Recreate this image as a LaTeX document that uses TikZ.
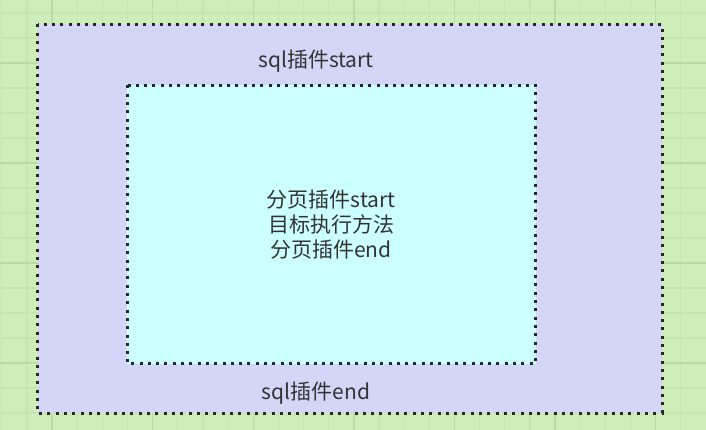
\documentclass[tikz,border=0pt]{standalone}
\usepackage{fontspec}
\setmainfont{Noto Sans CJK SC}
\usepackage{tikz}
\definecolor{bggreen}{HTML}{CDEEB8}
\definecolor{gridminor}{HTML}{C4E5AF}
\definecolor{gridmajor}{HTML}{BADCA4}
\definecolor{sqlfill}{HTML}{D4D6F8}
\definecolor{pagefill}{HTML}{CCFFFF}
\definecolor{textgray}{HTML}{333333}
\tikzset{
    plugbox/.style={draw=black!85, line width=3pt, dash pattern=on 3pt off 5.3pt, inner sep=0pt},
    plugtext/.style={text=textgray, font=\fontsize{21pt}{25pt}\selectfont, align=center}
}
\begin{document}
\begin{tikzpicture}[x=1pt,y=-1pt]
    \useasboundingbox (0,0) rectangle (706,430);
    \fill[bggreen] (0,0) rectangle (706,430);

%grid
    \foreach \k in {0,...,27} {
        \draw[gridminor, line width=1.2pt] ({1.8+25.15*\k},0) -- ({1.8+25.15*\k},430);
    }
    \foreach \k in {0,...,16} {
        \draw[gridminor, line width=1.2pt] (0,{13+25*\k}) -- (706,{13+25*\k});
    }
    \foreach \k in {2,6,...,26} {
        \draw[gridmajor, line width=1.5pt] ({1.8+25.15*\k},0) -- ({1.8+25.15*\k},430);
    }
    \foreach \k in {2,6,...,14} {
        \draw[gridmajor, line width=1.5pt] (0,{13+25*\k}) -- (706,{13+25*\k});
    }

%boxes
    \coordinate (S1) at (37.5, 24.5);
    \coordinate (S2) at (662, 413);
    \coordinate (P1) at (127, 85.5);
    \coordinate (P2) at (535.5, 363.5);

    \fill[sqlfill] (S1) rectangle (S2);
    \draw[plugbox] (S1) rectangle (S2);
    \fill[pagefill] (P1) rectangle (P2);
    \draw[plugbox] (P1) rectangle (P2);

%labels
    \node[plugtext] (sqlstart) at (316, 61) {sql插件start};
    \node[plugtext] (sqlend) at (316, 393.5) {sql插件end};
    \node[plugtext] (pagebody) at (331, 224.5) {分页插件start\\目标执行方法\\分页插件end};

\end{tikzpicture}
\end{document}
